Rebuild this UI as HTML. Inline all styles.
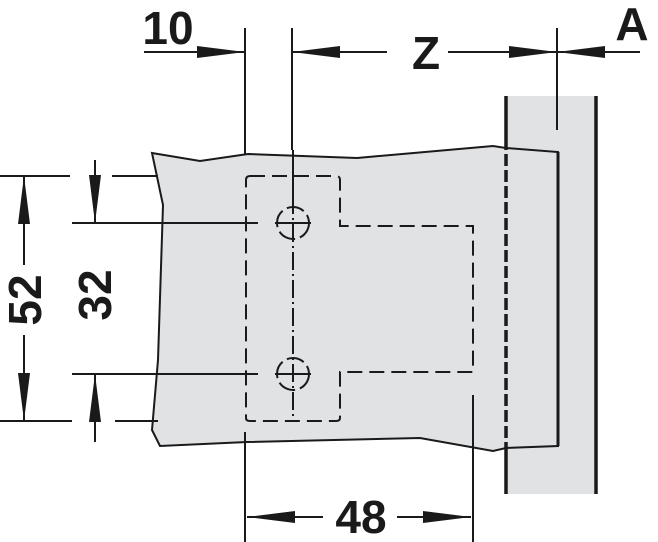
<!DOCTYPE html>
<html><head><meta charset="utf-8"><style>
html,body{margin:0;padding:0;background:#fff;width:658px;height:542px;overflow:hidden}
text{font-family:"Liberation Sans",sans-serif;font-weight:bold;fill:#1a1a1a}
</style></head><body>
<svg width="658" height="542" viewBox="0 0 658 542" xmlns="http://www.w3.org/2000/svg">
<defs>
<marker id="ah" viewBox="0 0 48 12" refX="48" refY="6" markerWidth="48" markerHeight="12" markerUnits="userSpaceOnUse" orient="auto"><path d="M0,0 L48,6 L0,12 Z" fill="#1a1a1a"/></marker>
</defs>
<rect x="506" y="96" width="90" height="398" fill="#e1e2e4"/>
<path d="M152,153 L200,161 L248,154 L357,158 L493,146 L506,148 L558,152 L558,446 L506,448 L493,451 L420,438 L247,442 L160,446 L152,430 L158,360 L163,205 Z" fill="#e1e2e4" stroke="#1a1a1a" stroke-width="2"/>
<line x1="558" y1="152" x2="558" y2="446" stroke="#1a1a1a" stroke-width="3"/>
<line x1="506" y1="96" x2="506" y2="494" stroke="#1a1a1a" stroke-width="3.5"/>
<line x1="596" y1="96" x2="596" y2="494" stroke="#1a1a1a" stroke-width="3.5"/>
<line x1="506" y1="150" x2="506" y2="447" stroke="#e1e2e4" stroke-width="4" stroke-dasharray="4 12"/>
<g stroke="#1a1a1a" stroke-width="2" fill="none">
<path d="M250,176 L336,176 Q340,176 340,180 L340,226 L473,226 L473,372 L340,372 L340,418 Q340,421 336,421 L250,421 Q246,421 246,418 L246,180 Q246,176 250,176" stroke-dasharray="15 7"/>
<line x1="293" y1="150" x2="293" y2="196"/>
<line x1="293" y1="196" x2="293" y2="420" stroke-dasharray="18 4 2 4"/>
<circle cx="293" cy="223" r="16" stroke-dasharray="18 5"/>
<circle cx="293" cy="374" r="16" stroke-dasharray="18 5"/>
<line x1="275" y1="223" x2="311" y2="223"/>
<line x1="275" y1="374" x2="311" y2="374"/>
<line x1="245" y1="28" x2="245" y2="155"/>
<line x1="292" y1="28" x2="292" y2="150"/>
<line x1="557" y1="28" x2="557" y2="130"/>
<line x1="245" y1="432" x2="245" y2="542"/>
<line x1="473" y1="395" x2="473" y2="542"/>
<line x1="0" y1="176" x2="70" y2="176"/><line x1="112" y1="176" x2="158" y2="176"/>
<line x1="0" y1="421" x2="72" y2="421"/><line x1="115" y1="421" x2="158" y2="421"/>
<line x1="72" y1="223" x2="258" y2="223"/>
<line x1="72" y1="374" x2="258" y2="374"/>
<line x1="144" y1="52" x2="245" y2="52" marker-end="url(#ah)"/>
<line x1="387" y1="52" x2="292" y2="52" marker-end="url(#ah)"/>
<line x1="448" y1="52" x2="557" y2="52" marker-end="url(#ah)"/>
<line x1="640" y1="52" x2="557" y2="52" marker-end="url(#ah)"/>
<line x1="24" y1="265" x2="24" y2="176" marker-end="url(#ah)"/>
<line x1="24" y1="335" x2="24" y2="421" marker-end="url(#ah)"/>
<line x1="95" y1="160" x2="95" y2="223" marker-end="url(#ah)"/>
<line x1="95" y1="442" x2="95" y2="374" marker-end="url(#ah)"/>
<line x1="323" y1="517" x2="247" y2="517" marker-end="url(#ah)"/>
<line x1="397" y1="517" x2="471" y2="517" marker-end="url(#ah)"/>
</g>
<text x="168" y="44" font-size="46" text-anchor="middle">10</text>
<text x="426" y="69" font-size="46" text-anchor="middle">Z</text>
<text x="632" y="40" font-size="46" text-anchor="middle">A</text>
<text x="361" y="533" font-size="46" text-anchor="middle">48</text>
<text transform="translate(41,300) rotate(-90)" font-size="46" text-anchor="middle">52</text>
<text transform="translate(111,295) rotate(-90)" font-size="46" text-anchor="middle">32</text>
</svg>
</body></html>
